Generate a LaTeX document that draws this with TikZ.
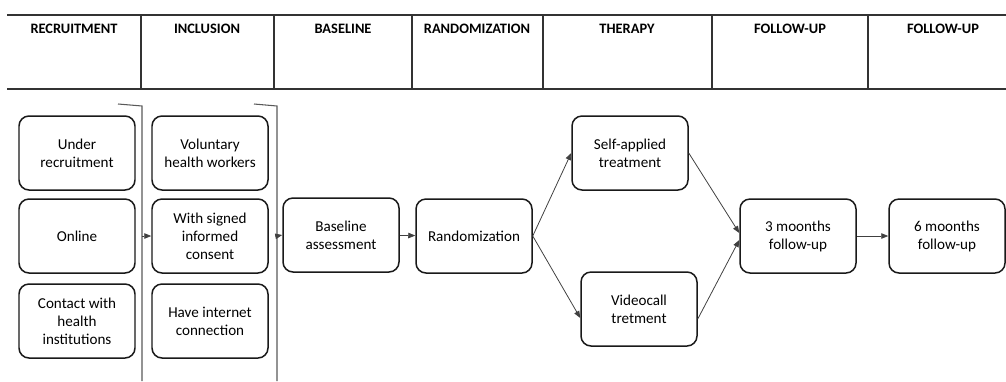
\documentclass[tikz,border=0pt]{standalone}
\usepackage{fontspec}
\setmainfont{Carlito}
\usetikzlibrary{arrows.meta}
\tikzset{
	stage/.style={draw=black!90, line width=0.85pt, rounded corners=2mm, minimum width=23.2mm, minimum height=14.8mm, align=center, text=black, font=\fontsize{8.6}{10.2}\selectfont},
	head/.style={anchor=base, text=black, font=\bfseries\fontsize{8.2}{9}\selectfont},
	flow/.style={draw=black!75, line width=0.45pt, -{Triangle[length=1.4mm,width=1.1mm]}},
	rule/.style={draw=black!80, line width=0.75pt},
	bracket/.style={draw=black!65, line width=0.6pt},
}

\begin{document}
\begin{tikzpicture}[x=0.2mm, y=-0.2mm]
			%%%%% START %%%%%
			\useasboundingbox (0, 0) rectangle (1006, 381);
			
			% header table
			\draw[rule] (7, 15) -- (1006, 15);
			\draw[rule] (7, 89) -- (1006, 89);
			\foreach \xx in {141, 274, 412, 543, 712, 868}
				\draw[rule] (\xx, 15) -- (\xx, 89);
			
			\node[head] (hrec) at (74, 33) {RECRUITMENT};
			\node[head] (hinc) at (207, 33) {INCLUSION};
			\node[head] (hbase) at (343, 33) {BASELINE};
			\node[head] (hrand) at (477, 33) {RANDOMIZATION};
			\node[head] (hther) at (627, 33) {THERAPY};
			\node[head] (hfoll) at (790, 33) {FOLLOW-UP};
			\node[head] (hfollb) at (943, 33) {FOLLOW-UP};
			
			% recruitment
			\node[stage] (under) at (77, 153) {Under\\recruitment};
			\node[stage] (online) at (77, 236) {Online};
			\node[stage] (contact) at (77, 321) {Contact with\\health\\institutions};
			
			\draw[bracket] (118, 104) -- (142, 106) -- (142, 381);
			\coordinate (brrec) at (142, 236);
			
			% inclusion
			\node[stage] (volunt) at (210, 153) {Voluntary\\health workers};
			\node[stage] (signed) at (210, 236) {With signed\\informed\\consent};
			\node[stage] (internet) at (210, 321) {Have internet\\connection};
			
			\draw[bracket] (254, 104) -- (277, 106) -- (277, 381);
			\coordinate (brinc) at (277, 236);
			
			% baseline and randomization
			\node[stage] (base) at (341, 235) {Baseline\\assessment};
			\node[stage] (rand) at (474, 236) {Randomization};
			
			% therapy
			\node[stage] (self) at (630, 153) {Self-applied\\treatment};
			\node[stage] (video) at (639, 309) {Videocall\\tretment};
			
			% follow-up
			\node[stage] (three) at (798, 236) {3 moonths\\follow-up};
			\node[stage] (six) at (947, 236) {6 moonths\\follow-up};
			
			% connectors
			\draw[flow] (brrec) -- (signed.west);
			\draw[flow] (brinc) -- (base.west);
			\draw[flow] (base) -- (rand);
			\draw[flow] (rand.east) -- (self.west);
			\draw[flow] (rand.east) -- ([yshift=-1.8mm]video.west);
			\draw[flow] (self.east) -- ([yshift=0.6mm]three.west);
			\draw[flow] ([yshift=-2mm]video.east) -- ([yshift=-0.8mm]three.west);
			\draw[flow] (three) -- (six);
			
			%%%%% END %%%%%
\end{tikzpicture}
\end{document}
